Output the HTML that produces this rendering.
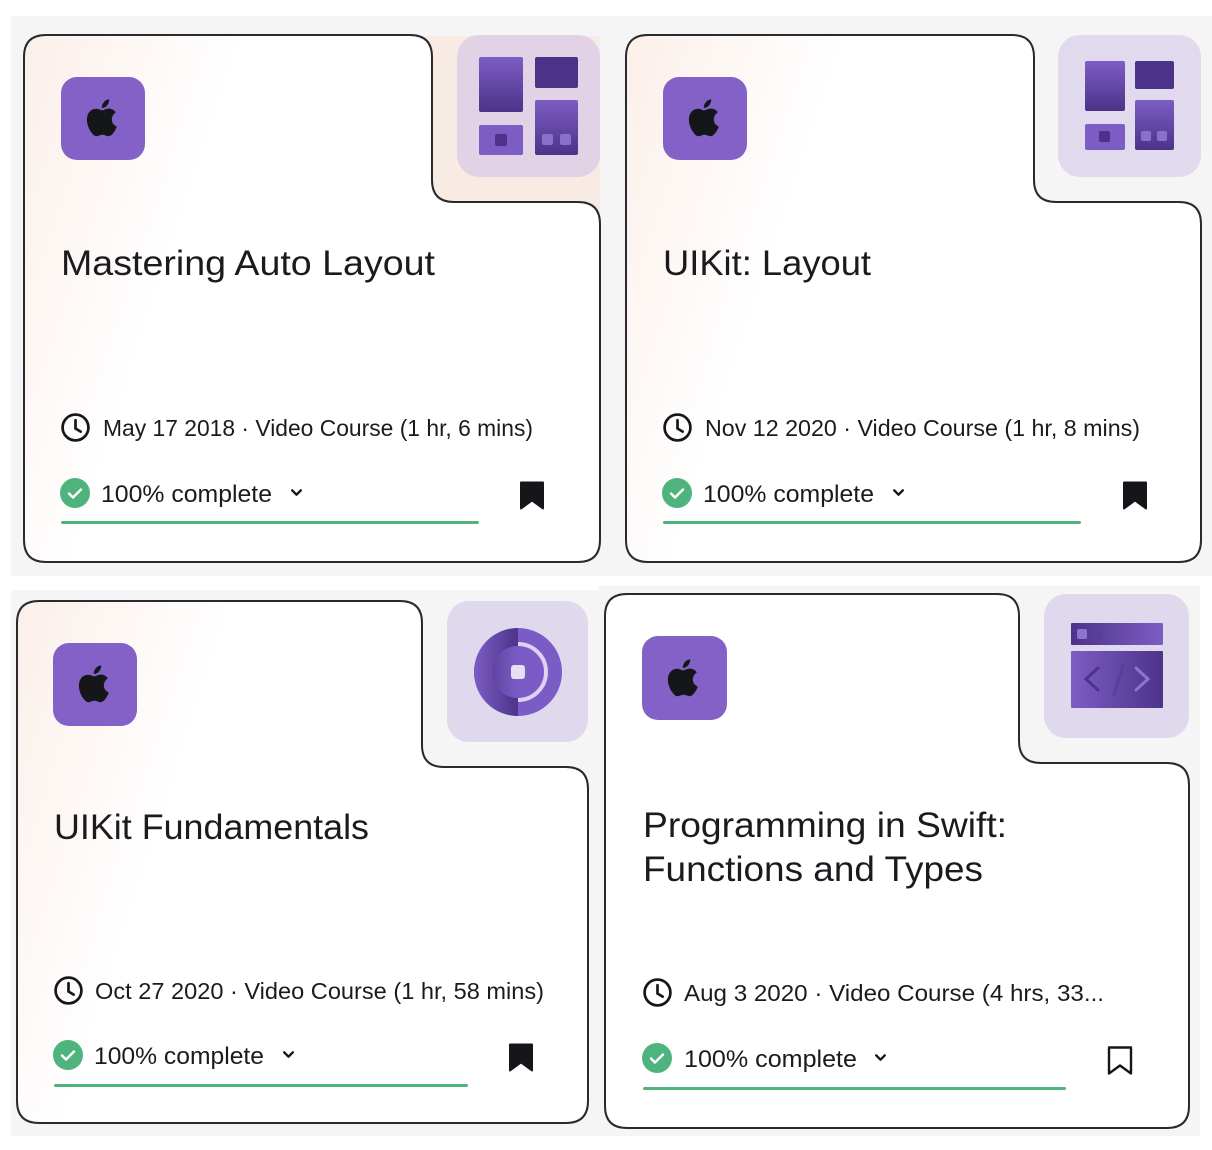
<!DOCTYPE html>
<html><head><meta charset="utf-8"><style>
html,body{margin:0;padding:0;background:#fff;}
svg{display:block}
text{font-family:"Liberation Sans",sans-serif;fill:#1b1b1f}
</style></head><body>
<svg width="1212" height="1150" viewBox="0 0 1212 1150" xmlns="http://www.w3.org/2000/svg">
<defs>
<linearGradient id="cg" x1="0" y1="0" x2="1" y2="0.3">
<stop offset="0" stop-color="#fbefe9"/><stop offset="0.35" stop-color="#fff"/><stop offset="1" stop-color="#fff"/></linearGradient>
<linearGradient id="pv" x1="0" y1="0" x2="0" y2="1"><stop offset="0" stop-color="#7c5dc4"/><stop offset="1" stop-color="#4c3389"/></linearGradient>
<linearGradient id="ph" x1="0" y1="0" x2="1" y2="0"><stop offset="0" stop-color="#7c5dc4"/><stop offset="1" stop-color="#4c3389"/></linearGradient>
<linearGradient id="ph2" x1="0" y1="0" x2="1" y2="0"><stop offset="0" stop-color="#4c3389"/><stop offset="1" stop-color="#7c5dc4"/></linearGradient>
<symbol id="apple" viewBox="0 0 24 24"><path fill="#15161a" d="M16.4 12.7c0-2.4 2-3.5 2-3.6-1.1-1.6-2.8-1.8-3.4-1.8-1.4-.1-2.8.9-3.500.9-.7 0-1.8-.9-3-.8C6.9 7.4 5.5 8.3 4.7 9.7c-1.6 2.8-.4 6.9 1.2 9.1.8 1.1 1.7 2.4 2.9 2.3 1.1 0 1.6-.7 3-.7s1.8.7 3 .7c1.2 0 2-1.1 2.8-2.2.9-1.3 1.2-2.5 1.3-2.6-.1 0-2.500-1-2.500-3.600zM14.1 5.6c.6-.8 1.1-1.8 1-2.9-.9 0-2.1.6-2.7 1.4-.6.7-1.1 1.8-1 2.8 1 .1 2.1-.5 2.700-1.300z"/></symbol>
<symbol id="clock" viewBox="0 0 30 30"><circle cx="15" cy="15" r="12.5" fill="none" stroke="#15161a" stroke-width="2.6"/><path d="M15 8v8l5 3" fill="none" stroke="#15161a" stroke-width="2.6" stroke-linecap="round"/></symbol>
<symbol id="check" viewBox="0 0 30 30"><circle cx="15" cy="15" r="15" fill="#4fb37d"/><path d="M9 15.5l4 4 8-8" fill="none" stroke="#fff" stroke-width="2.4" stroke-linecap="round" stroke-linejoin="round"/></symbol>
<symbol id="chev" viewBox="0 0 12 8"><path d="M2 2l4 4 4-4" fill="none" stroke="#15161a" stroke-width="2.2" stroke-linecap="round" stroke-linejoin="round"/></symbol>
<symbol id="bm" viewBox="0 0 26 30"><path d="M2 2h22v26l-11-8-11 8z" fill="#15161a" stroke="#15161a" stroke-width="2" stroke-linejoin="round"/></symbol>
<symbol id="bmo" viewBox="0 0 26 30"><path d="M2 2h22v26l-11-8-11 8z" fill="none" stroke="#15161a" stroke-width="2.4" stroke-linejoin="round"/></symbol>
</defs>
<rect x="11" y="16" width="1201" height="560" fill="#f5f5f5"/>
<rect x="11" y="590" width="588" height="546" fill="#f5f5f5"/>
<rect x="598" y="586" width="602" height="550" fill="#f5f5f5"/>

<!-- card 1 -->
<rect x="420" y="36" width="180" height="175" fill="#f7ebe4"/>
<path d="M46,35 H410 Q432,35 432,57 V180 Q432,202 454,202 H578 Q600,202 600,224 V540 Q600,562 578,562 H46 Q24,562 24,540 V57 Q24,35 46,35Z" fill="url(#cg)" stroke="#2a2a2e" stroke-width="2"/>
<rect x="457" y="35" width="143" height="142" rx="22" fill="#e1d3e5"/>
<rect x="479" y="57" width="44" height="55" rx="2" fill="url(#pv)"/>
<rect x="535" y="57" width="43" height="31" rx="2" fill="#4c3389"/>
<rect x="479" y="125" width="44" height="30" rx="2" fill="#7c5dc4"/>
<rect x="495" y="134" width="12" height="12" rx="2" fill="#4c3389"/>
<rect x="535" y="100" width="43" height="55" rx="2" fill="url(#pv)"/>
<rect x="542" y="134" width="11" height="11" rx="2" fill="#8b6fcb"/><rect x="560" y="134" width="11" height="11" rx="2" fill="#8b6fcb"/>
<rect x="61" y="77" width="84" height="83" rx="16" fill="#8461c6"/>
<use href="#apple" x="79" y="94" width="48" height="48"/>
<text x="61" y="275" font-size="35" textLength="374" lengthAdjust="spacingAndGlyphs">Mastering Auto Layout</text>
<use href="#clock" x="60" y="412" width="31" height="31"/>
<text x="103" y="436" font-size="23" textLength="430" lengthAdjust="spacingAndGlyphs">May 17 2018 · Video Course (1 hr, 6 mins)</text>
<use href="#check" x="60" y="478" width="30" height="30"/>
<text x="101" y="502" font-size="24.5" textLength="171" lengthAdjust="spacingAndGlyphs">100% complete</text>
<use href="#chev" x="290" y="488" width="13" height="9"/>
<rect x="61" y="521" width="418" height="3" rx="1.5" fill="#4fb37d"/>
<use href="#bm" x="519" y="480" width="26" height="31"/>

<!-- card 2 -->
<path d="M648,35 H1012 Q1034,35 1034,57 V180 Q1034,202 1056,202 H1179 Q1201,202 1201,224 V540 Q1201,562 1179,562 H648 Q626,562 626,540 V57 Q626,35 648,35Z" fill="url(#cg)" stroke="#2a2a2e" stroke-width="2"/>
<rect x="1058" y="35" width="143" height="142" rx="22" fill="#e1d9ee"/>
<rect x="1085" y="61" width="40" height="50" rx="2" fill="url(#pv)"/>
<rect x="1135" y="61" width="39" height="28" rx="2" fill="#4c3389"/>
<rect x="1085" y="124" width="40" height="26" rx="2" fill="#7c5dc4"/>
<rect x="1099" y="131" width="11" height="11" rx="2" fill="#4c3389"/>
<rect x="1135" y="100" width="39" height="50" rx="2" fill="url(#pv)"/>
<rect x="1141" y="131" width="10" height="10" rx="2" fill="#8b6fcb"/><rect x="1157" y="131" width="10" height="10" rx="2" fill="#8b6fcb"/>
<rect x="663" y="77" width="84" height="83" rx="16" fill="#8461c6"/>
<use href="#apple" x="681" y="94" width="48" height="48"/>
<text x="663" y="275" font-size="35" textLength="208" lengthAdjust="spacingAndGlyphs">UIKit: Layout</text>
<use href="#clock" x="662" y="412" width="31" height="31"/>
<text x="705" y="436" font-size="23" textLength="435" lengthAdjust="spacingAndGlyphs">Nov 12 2020 · Video Course (1 hr, 8 mins)</text>
<use href="#check" x="662" y="478" width="30" height="30"/>
<text x="703" y="502" font-size="24.5" textLength="171" lengthAdjust="spacingAndGlyphs">100% complete</text>
<use href="#chev" x="892" y="488" width="13" height="9"/>
<rect x="663" y="521" width="418" height="3" rx="1.5" fill="#4fb37d"/>
<use href="#bm" x="1122" y="480" width="26" height="31"/>

<!-- card 3 -->
<path d="M39,601 H400 Q422,601 422,623 V745 Q422,767 444,767 H566 Q588,767 588,789 V1101 Q588,1123 566,1123 H39 Q17,1123 17,1101 V623 Q17,601 39,601Z" fill="url(#cg)" stroke="#2a2a2e" stroke-width="2"/>
<rect x="447" y="601" width="141" height="141" rx="22" fill="#e0d9ee"/>
<circle cx="518" cy="672" r="44" fill="#7b5cc6"/>
<path d="M518,628 A44,44 0 0 0 518,716 Z" fill="url(#ph)"/>
<circle cx="518" cy="672" r="26" fill="#7b5cc6"/>
<path d="M518,646 A26,26 0 0 0 518,698 Z" fill="url(#ph2)" opacity="0.6"/>
<path d="M518,644 A28,28 0 0 1 518,700" fill="none" stroke="#ddd3ef" stroke-width="4"/>
<rect x="511" y="665" width="14" height="14" rx="3" fill="#e7def4"/>
<rect x="53" y="643" width="84" height="83" rx="16" fill="#8461c6"/>
<use href="#apple" x="71" y="660" width="48" height="48"/>
<text x="54" y="839" font-size="35" textLength="315" lengthAdjust="spacingAndGlyphs">UIKit Fundamentals</text>
<use href="#clock" x="53" y="975" width="31" height="31"/>
<text x="95" y="999" font-size="23" textLength="449" lengthAdjust="spacingAndGlyphs">Oct 27 2020 · Video Course (1 hr, 58 mins)</text>
<use href="#check" x="53" y="1040" width="30" height="30"/>
<text x="94" y="1064" font-size="24.5" textLength="170" lengthAdjust="spacingAndGlyphs">100% complete</text>
<use href="#chev" x="282" y="1050" width="13" height="9"/>
<rect x="54" y="1084" width="414" height="3" rx="1.5" fill="#4fb37d"/>
<use href="#bm" x="508" y="1042" width="26" height="31"/>

<!-- card 4 -->
<path d="M627,594 H997 Q1019,594 1019,616 V741 Q1019,763 1041,763 H1167 Q1189,763 1189,785 V1106 Q1189,1128 1167,1128 H627 Q605,1128 605,1106 V616 Q605,594 627,594Z" fill="#fff" stroke="#2a2a2e" stroke-width="2"/>
<rect x="1044" y="594" width="145" height="144" rx="22" fill="#e0d9ee"/>
<rect x="1071" y="623" width="92" height="22" rx="1" fill="url(#ph2)"/>
<rect x="1077" y="629" width="10" height="10" rx="2" fill="#8d72d0"/><rect x="1093" y="629" width="10" height="10" rx="2" fill="#5a3e9a"/>
<rect x="1071" y="651" width="92" height="57" rx="1" fill="url(#ph)"/>
<path d="M1098,668 l-12,11 12,11" fill="none" stroke="#4c3389" stroke-width="3" stroke-linecap="round"/>
<path d="M1123,665 l-9,30" fill="none" stroke="#5a3e9a" stroke-width="3" stroke-linecap="round"/>
<path d="M1136,668 l12,11 -12,11" fill="none" stroke="#8d72d0" stroke-width="3" stroke-linecap="round"/>
<rect x="642" y="636" width="85" height="84" rx="16" fill="#8461c6"/>
<use href="#apple" x="660" y="654" width="48" height="48"/>
<text x="643" y="837" font-size="35" textLength="364" lengthAdjust="spacingAndGlyphs">Programming in Swift:</text>
<text x="643" y="881" font-size="35" textLength="340" lengthAdjust="spacingAndGlyphs">Functions and Types</text>
<use href="#clock" x="642" y="977" width="31" height="31"/>
<text x="684" y="1001" font-size="23" textLength="420" lengthAdjust="spacingAndGlyphs">Aug 3 2020 · Video Course (4 hrs, 33...</text>
<use href="#check" x="642" y="1043" width="30" height="30"/>
<text x="684" y="1067" font-size="24.5" textLength="173" lengthAdjust="spacingAndGlyphs">100% complete</text>
<use href="#chev" x="874" y="1053" width="13" height="9"/>
<rect x="643" y="1087" width="423" height="3" rx="1.5" fill="#4fb37d"/>
<use href="#bmo" x="1107" y="1045" width="26" height="31"/>
</svg>
</body></html>
